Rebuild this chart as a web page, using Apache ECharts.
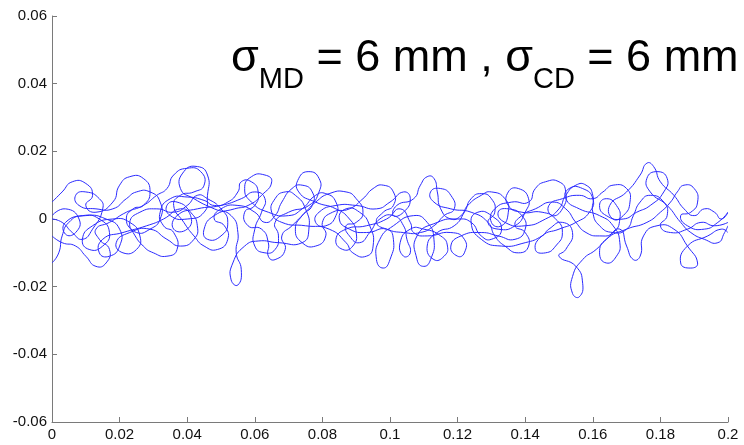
<!DOCTYPE html>
<html><head><meta charset="utf-8">
<script src="https://cdn.jsdelivr.net/npm/echarts@6/dist/echarts.min.js"></script>
<style>html,body{margin:0;padding:0;background:#fff}#c{width:744px;height:445px}</style>
</head><body><div id="c"></div>
<script>
// Tick labels
const xTicks = [0, 0.02, 0.04, 0.06, 0.08, 0.1, 0.12, 0.14, 0.16, 0.18, 0.2];
const yTicks = [-0.06, -0.04, -0.02, 0, 0.02, 0.04, 0.06];
// Fibre paths [x (m), y (m)]
const fiber1 = [[0,-0.013],[0.002,-0.010],[0.003,-0.005],[0.005,-0.001],[0.009,0.001],[0.014,0],[0.017,-0.004],[0.015,-0.008],[0.011,-0.009],[0.009,-0.006],[0.012,-0.002],[0.018,0],[0.023,-0.001],[0.026,-0.005],[0.025,-0.009],[0.021,-0.010],[0.019,-0.007],[0.023,-0.004],[0.029,-0.003],[0.034,-0.006],[0.038,-0.008],[0.042,-0.006],[0.043,-0.002],[0.041,0.002],[0.037,0.005],[0.034,0.004],[0.035,0.001],[0.040,0],[0.045,0.002],[0.046,0.007],[0.046,0.013],[0.043,0.0155],[0.039,0.014],[0.038,0.009],[0.042,0.006],[0.048,0.003],[0.053,0.001],[0.055,-0.004],[0.0545,-0.010],[0.056,-0.015],[0.055,-0.0195],[0.053,-0.018],[0.0535,-0.013],[0.057,-0.008],[0.061,-0.0065],[0.067,-0.007],[0.074,-0.007],[0.076,-0.003],[0.075,0.003],[0.072,0.007],[0.069,0.008],[0.066,0.006],[0.065,0.002],[0.068,-0.001],[0.075,-0.002],[0.082,-0.003],[0.087,-0.007],[0.089,-0.010],[0.093,-0.011],[0.095,-0.008],[0.094,-0.002],[0.091,0.002],[0.087,0.003],[0.085,0],[0.088,-0.003],[0.093,-0.004],[0.099,-0.003],[0.101,-0.006],[0.100,-0.012],[0.098,-0.0145],[0.096,-0.012],[0.097,-0.006],[0.101,-0.002],[0.107,0.001],[0.111,-0.001],[0.113,-0.006],[0.112,-0.012],[0.110,-0.014],[0.108,-0.012],[0.108,-0.005],[0.114,-0.001],[0.120,0],[0.124,-0.001],[0.127,-0.005],[0.130,-0.006],[0.133,-0.003],[0.130,0.001],[0.126,0.002],[0.124,-0.001],[0.127,-0.006],[0.133,-0.008],[0.140,-0.007],[0.145,-0.005],[0.147,-0.003],[0.151,-0.001],[0.154,-0.004],[0.152,-0.009],[0.150,-0.011],[0.155,-0.014],[0.157,-0.019],[0.156,-0.023],[0.154,-0.022],[0.154,-0.017],[0.157,-0.012],[0.161,-0.009],[0.164,-0.006],[0.168,-0.003],[0.170,-0.008],[0.172,-0.012],[0.174,-0.011],[0.175,-0.005],[0.179,-0.002],[0.184,-0.003],[0.188,-0.008],[0.191,-0.013],[0.189,-0.0145],[0.186,-0.013],[0.188,-0.008],[0.194,-0.005],[0.198,-0.003],[0.200,-0.004]];
const fiber2 = [[0,0],[0.003,-0.001],[0.006,-0.004],[0.009,-0.006],[0.012,-0.003],[0.015,0.003],[0.014,0.006],[0.010,0.008],[0.007,0.007],[0.008,0.004],[0.013,0.003],[0.018,0.003],[0.022,0.006],[0.025,0.008],[0.029,0.008],[0.032,0.005],[0.032,0],[0.029,-0.003],[0.025,-0.004],[0.023,-0.001],[0.026,0.002],[0.031,0.003],[0.036,0.002],[0.040,0.004],[0.043,0.007],[0.046,0.006],[0.050,0.003],[0.052,-0.001],[0.050,-0.005],[0.046,-0.006],[0.045,-0.003],[0.048,0.001],[0.054,0.003],[0.058,0.004],[0.062,0.007],[0.065,0.011],[0.063,0.013],[0.059,0.0125],[0.057,0.009],[0.059,0.005],[0.064,0.002],[0.070,0.001],[0.074,0.003],[0.078,0.007],[0.081,0.0075],[0.084,0.005],[0.084,0.001],[0.081,-0.002],[0.078,-0.001],[0.079,0.002],[0.084,0.004],[0.090,0.004],[0.096,0.003],[0.100,0.005],[0.104,0.008],[0.106,0.006],[0.104,0.002],[0.101,0.001],[0.102,0.004],[0.107,0.006],[0.109,0.010],[0.111,0.0125],[0.113,0.012],[0.114,0.008],[0.115,0.003],[0.118,0],[0.121,0.001],[0.123,0.004],[0.127,0.007],[0.130,0.008],[0.134,0.006],[0.135,0.002],[0.133,-0.002],[0.130,-0.001],[0.131,0.003],[0.136,0.005],[0.141,0.005],[0.143,0.009],[0.146,0.011],[0.150,0.011],[0.152,0.008],[0.151,0.003],[0.148,0.001],[0.147,0.004],[0.151,0.006],[0.156,0.007],[0.160,0.006],[0.163,0.008],[0.166,0.010],[0.170,0.009],[0.171,0.005],[0.169,0.001],[0.166,0],[0.165,0.004],[0.170,0.008],[0.174,0.013],[0.176,0.0165],[0.178,0.0155],[0.180,0.011],[0.184,0.007],[0.187,0.003],[0.190,0.001],[0.193,0.003],[0.196,0.002],[0.198,0],[0.200,0.002]];
const fiber3 = [[0,0.005],[0.003,0.008],[0.006,0.011],[0.010,0.0105],[0.012,0.007],[0.010,0.004],[0.013,0.002],[0.018,0.005],[0.020,0.010],[0.023,0.0125],[0.027,0.012],[0.029,0.008],[0.027,0.004],[0.024,0.003],[0.022,0],[0.024,-0.004],[0.027,-0.008],[0.030,-0.010],[0.034,-0.011],[0.037,-0.009],[0.036,-0.004],[0.033,-0.002],[0.032,0.002],[0.035,0.006],[0.040,0.0065],[0.045,0.0055],[0.048,0.004],[0.052,0.005],[0.055,0.008],[0.056,0.011],[0.059,0.011],[0.061,0.008],[0.060,0.004],[0.057,0.002],[0.058,-0.002],[0.062,-0.003],[0.064,-0.007],[0.064,-0.011],[0.066,-0.012],[0.069,-0.009],[0.068,-0.005],[0.071,-0.002],[0.075,0.002],[0.078,0.005],[0.082,0.0075],[0.087,0.008],[0.090,0.006],[0.092,0.002],[0.090,-0.001],[0.087,-0.002],[0.088,-0.005],[0.091,-0.007],[0.094,-0.004],[0.097,0],[0.101,0.001],[0.104,-0.002],[0.105,-0.006],[0.106,-0.010],[0.104,-0.011],[0.103,-0.007],[0.106,-0.003],[0.110,-0.003],[0.115,-0.005],[0.117,-0.008],[0.116,-0.011],[0.113,-0.012],[0.111,-0.008],[0.114,-0.004],[0.119,-0.002],[0.122,0.002],[0.124,0.006],[0.127,0.0075],[0.130,0.006],[0.131,0.002],[0.129,-0.001],[0.132,-0.003],[0.137,-0.002],[0.140,0.002],[0.141,0.006],[0.138,0.009],[0.135,0.008],[0.135,0.004],[0.139,0.002],[0.145,0.002],[0.149,0],[0.151,-0.004],[0.149,-0.008],[0.146,-0.010],[0.143,-0.009],[0.145,-0.005],[0.150,-0.003],[0.155,-0.001],[0.159,0.002],[0.160,0.006],[0.157,0.009],[0.153,0.009],[0.152,0.006],[0.156,0.003],[0.162,0.001],[0.166,-0.002],[0.168,-0.007],[0.167,-0.011],[0.164,-0.013],[0.162,-0.010],[0.164,-0.006],[0.170,-0.003],[0.176,-0.001],[0.180,0.002],[0.183,0.005],[0.185,0.008],[0.187,0.010],[0.190,0.009],[0.191,0.005],[0.189,0.002],[0.186,0.001],[0.188,-0.002],[0.193,-0.003],[0.197,-0.001],[0.200,0.002]];
const fiber4 = [[0,0.001],[0.004,0.003],[0.008,0],[0.007,-0.004],[0.004,-0.0045],[0.004,-0.001],[0.010,0.001],[0.016,0],[0.020,-0.003],[0.020,-0.008],[0.017,-0.011],[0.014,-0.010],[0.015,-0.006],[0.021,-0.004],[0.028,-0.002],[0.033,0],[0.038,0.003],[0.041,0.001],[0.040,-0.003],[0.036,-0.003],[0.037,0.001],[0.043,0.003],[0.050,0.004],[0.056,0.006],[0.060,0.008],[0.063,0.006],[0.062,0.002],[0.060,-0.003],[0.060,-0.008],[0.063,-0.010],[0.066,-0.009],[0.067,-0.005],[0.066,-0.001],[0.070,0.002],[0.076,0.004],[0.079,0.008],[0.079,0.012],[0.076,0.014],[0.073,0.012],[0.073,0.008],[0.078,0.005],[0.084,0.003],[0.088,0],[0.090,-0.004],[0.089,-0.008],[0.086,-0.009],[0.084,-0.006],[0.087,-0.003],[0.093,-0.002],[0.099,0],[0.103,0.003],[0.106,-0.001],[0.107,-0.004],[0.111,-0.005],[0.118,-0.004],[0.122,-0.006],[0.122,-0.010],[0.120,-0.011],[0.118,-0.008],[0.121,-0.005],[0.127,-0.004],[0.132,-0.005],[0.137,-0.006],[0.140,-0.003],[0.139,0.001],[0.135,0.003],[0.132,0.002],[0.134,-0.001],[0.140,-0.002],[0.146,0],[0.150,0.003],[0.152,0.007],[0.155,0.010],[0.158,0.010],[0.160,0.007],[0.160,0.002],[0.162,-0.002],[0.166,-0.004],[0.170,-0.003],[0.172,0.001],[0.174,0.005],[0.177,0.007],[0.181,0.005],[0.182,0.001],[0.180,-0.002],[0.183,-0.004],[0.188,-0.003],[0.192,-0.001],[0.196,-0.002],[0.200,-0.001]];
const fiber5 = [[0,-0.005],[0.003,-0.007],[0.007,-0.008],[0.010,-0.011],[0.013,-0.014],[0.016,-0.013],[0.017,-0.009],[0.014,-0.006],[0.013,-0.003],[0.017,-0.001],[0.022,0.002],[0.027,0.004],[0.031,0.007],[0.034,0.009],[0.036,0.013],[0.040,0.015],[0.044,0.014],[0.045,0.010],[0.042,0.008],[0.038,0.007],[0.036,0.004],[0.039,-0.001],[0.042,-0.005],[0.045,-0.008],[0.049,-0.009],[0.052,-0.006],[0.051,-0.002],[0.048,0],[0.050,0.003],[0.055,0.004],[0.060,0.002],[0.063,-0.001],[0.066,0.001],[0.068,0.005],[0.071,0.009],[0.074,0.010],[0.077,0.008],[0.077,0.004],[0.074,0.001],[0.072,-0.003],[0.074,-0.007],[0.078,-0.008],[0.081,-0.005],[0.080,-0.001],[0.083,0.002],[0.088,0.003],[0.092,0.006],[0.095,0.009],[0.098,0.010],[0.101,0.008],[0.101,0.004],[0.098,0.002],[0.096,-0.001],[0.099,-0.003],[0.104,-0.004],[0.109,-0.004],[0.113,-0.002],[0.116,0.001],[0.119,0.003],[0.118,0.007],[0.115,0.009],[0.112,0.008],[0.113,0.005],[0.118,0.003],[0.124,0.002],[0.129,-0.001],[0.131,-0.005],[0.134,-0.008],[0.138,-0.010],[0.141,-0.008],[0.140,-0.004],[0.137,-0.002],[0.139,0.001],[0.143,0.003],[0.148,0.005],[0.152,0.003],[0.155,-0.001],[0.158,-0.004],[0.162,-0.005],[0.166,-0.004],[0.168,0],[0.167,0.004],[0.164,0.006],[0.162,0.004],[0.164,0.001],[0.169,0],[0.173,0.002],[0.177,0.004],[0.181,0.008],[0.182,0.012],[0.179,0.014],[0.176,0.012],[0.177,0.008],[0.182,0.004],[0.186,-0.001],[0.189,-0.004],[0.193,-0.006],[0.197,-0.007],[0.199,-0.004],[0.200,-0.002]];
const fibers = [fiber1, fiber2, fiber3, fiber4, fiber5];

const fmt = v => String(+v.toFixed(2));
const axisCommon = {
  axisLine: {show: true, onZero: false, lineStyle: {color: '#7a7a7a', width: 1}},
  axisTick: {show: true, inside: true, length: 5, lineStyle: {color: '#7a7a7a'}},
  splitLine: {show: false},
  axisLabel: {color: '#111', fontFamily: 'Liberation Sans', fontSize: 15, formatter: fmt, margin: 5}
};
const chart = echarts.init(document.getElementById('c'), null, {renderer: 'canvas'});
chart.setOption({
  animation: false,
  backgroundColor: '#fff',
  title: {
    left: 226, top: 31,
    text: '{s|σ}{b|MD}{s| = 6 mm , σ}{b|CD}{s| = 6 mm}',
    textStyle: {
      fontWeight: 'normal',
      rich: {
        s: {fontFamily: 'Liberation Sans', fontSize: 45, fontWeight: 'normal', color: '#000', verticalAlign: 'bottom', padding: [0,0,13,0]},
        b: {fontFamily: 'Liberation Sans', fontSize: 29, fontWeight: 'normal', color: '#000', verticalAlign: 'bottom'}
      }
    }
  },
  grid: {left: 52, right: 16, top: 16, bottom: 23, containLabel: false},
  xAxis: Object.assign({type: 'value', min: xTicks[0], max: xTicks[xTicks.length-1], interval: 0.02}, axisCommon),
  yAxis: Object.assign({type: 'value', min: yTicks[0], max: yTicks[yTicks.length-1], interval: 0.02}, axisCommon),
  series: fibers.map(f => ({
    type: 'custom', data: f, clip: true,
    encode: {x: 0, y: 1},
    renderItem: function (params, api) {
      if (params.dataIndex !== 0) return null;
      const pts = f.map(p => api.coord(p));
      return {
        type: 'polyline', silent: true,
        shape: {points: pts, smooth: 0.55},
        style: {stroke: '#2a2aff', lineWidth: 1, fill: null}
      };
    }
  }))
});
</script></body></html>
